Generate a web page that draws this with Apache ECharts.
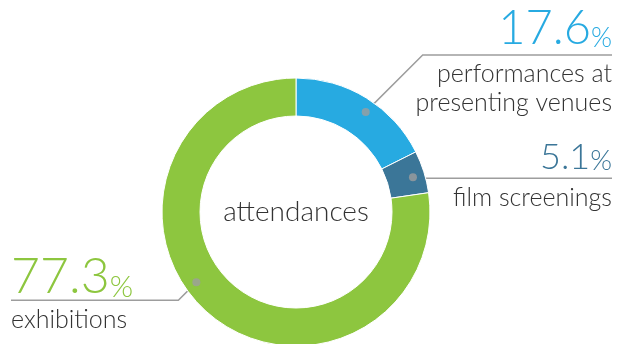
<!DOCTYPE html>
<html>
<head>
<meta charset="utf-8">
<script src="https://cdn.jsdelivr.net/npm/echarts@6/dist/echarts.min.js"></script>
<style>
  html, body { margin: 0; padding: 0; background: #fff; }
  #chart { width: 618px; height: 344px; }
</style>
</head>
<body>
<div id="chart"></div>
<script>
// share of attendances by activity (%)
var categories = ['performances at\npresenting venues', 'film screenings', 'exhibitions'];
var shares = [17.6, 5.1, 77.3];
var centerLabel = 'attendances';

// styling per slice
var colors = ['#27aae1', '#3b7698', '#8dc63f'];
var valueFont = [47, 36, 50];
var pctFont = [27, 28, 30];
var gapAbove = [12, 10, 8];         // value baseline above the underline
var gapBelow = [27, 27, 27];        // name baseline below the underline
var leaderRise = [-57, 1, 18];      // underline offset from the dot
var labelSide = ['right', 'right', 'left'];

var cx = 296, cy = 212, r0 = 96, r1 = 134, dotR = 122;
var anchorFrac = 0.55;              // where along each slice the dot sits
var font = 'Lato';
var nameSize = 25;
var nameLine = 29;
var textColor = '#333';
var lineColor = '#9d9d9d';

var total = shares.reduce(function (a, b) { return a + b; }, 0);
var dotAngle = [];
var acc = 0;
shares.forEach(function (v) {
  dotAngle.push(acc + v * anchorFrac);
  acc += v;
});

var rich = {
  n: { fontFamily: font, fontWeight: 300, fontSize: nameSize, lineHeight: nameLine, color: textColor }
};
shares.forEach(function (v, i) {
  var fv = valueFont[i], fp = pctFont[i];
  rich['v' + i] = { fontFamily: font, fontWeight: 300, fontSize: fv, lineHeight: fv, color: colors[i], verticalAlign: 'bottom' };
  rich['p' + i] = { fontFamily: font, fontWeight: 300, fontSize: fp, lineHeight: fv - 0.6 * (fv - fp), color: colors[i], verticalAlign: 'bottom' };
  var gap = gapBelow[i] + gapAbove[i] - 0.2 * fv - (nameLine / 2 + 0.3 * nameSize);
  rich['s' + i] = { fontSize: 1, lineHeight: Math.max(1, gap) };
});

var chart = echarts.init(document.getElementById('chart'));

chart.setOption({
  animation: false,
  polar: { center: [cx, cy], radius: r1 },
  angleAxis: { type: 'value', min: 0, max: total, startAngle: 90, clockwise: true, show: false },
  radiusAxis: { type: 'value', min: 0, max: r1, show: false },
  graphic: [{
    type: 'text',
    x: cx,
    y: cy,
    style: {
      text: centerLabel,
      align: 'center',
      verticalAlign: 'middle',
      fontFamily: font,
      fontWeight: 300,
      fontSize: 28,
      fill: textColor
    }
  }],
  series: [
    {
      type: 'pie',
      center: [cx, cy],
      radius: [r0, r1],
      startAngle: 90,
      clockwise: true,
      avoidLabelOverlap: false,
      silent: true,
      itemStyle: { borderColor: '#fff', borderWidth: 1 },
      data: categories.map(function (c, i) {
        return { name: c, value: shares[i], itemStyle: { color: colors[i] } };
      }),
      label: {
        show: true,
        position: 'outside',
        rich: rich,
        formatter: function (p) {
          var i = p.dataIndex;
          var s = '{v' + i + '|' + p.value.toFixed(1) + '}{p' + i + '|%}\n{s' + i + '| }';
          p.name.split('\n').forEach(function (line) { s += '\n{n|' + line + '}'; });
          return s;
        }
      },
      labelLine: { show: true, lineStyle: { color: lineColor, width: 1.5 } },
      labelLayout: function (p) {
        var i = p.dataIndex;
        var a = dotAngle[i] / total * Math.PI * 2;
        var dx = cx + dotR * Math.sin(a);
        var dy = cy - dotR * Math.cos(a);
        var ly = dy + leaderRise[i];
        var right = labelSide[i] === 'right';
        var endX = right ? 612 : 11;
        var bendX = dx + (right ? 1 : -1) * Math.abs(ly - dy);
        return {
          x: endX,
          y: ly - gapAbove[i] - 0.8 * valueFont[i],
          align: right ? 'right' : 'left',
          verticalAlign: 'top',
          labelLinePoints: [[dx, dy], [bendX, ly], [endX, ly]]
        };
      }
    },
    {
      type: 'scatter',
      coordinateSystem: 'polar',
      silent: true,
      z: 5,
      symbolSize: 8,
      itemStyle: { color: lineColor },
      data: dotAngle.map(function (a) { return [dotR, a]; })
    }
  ]
});
</script>
</body>
</html>
